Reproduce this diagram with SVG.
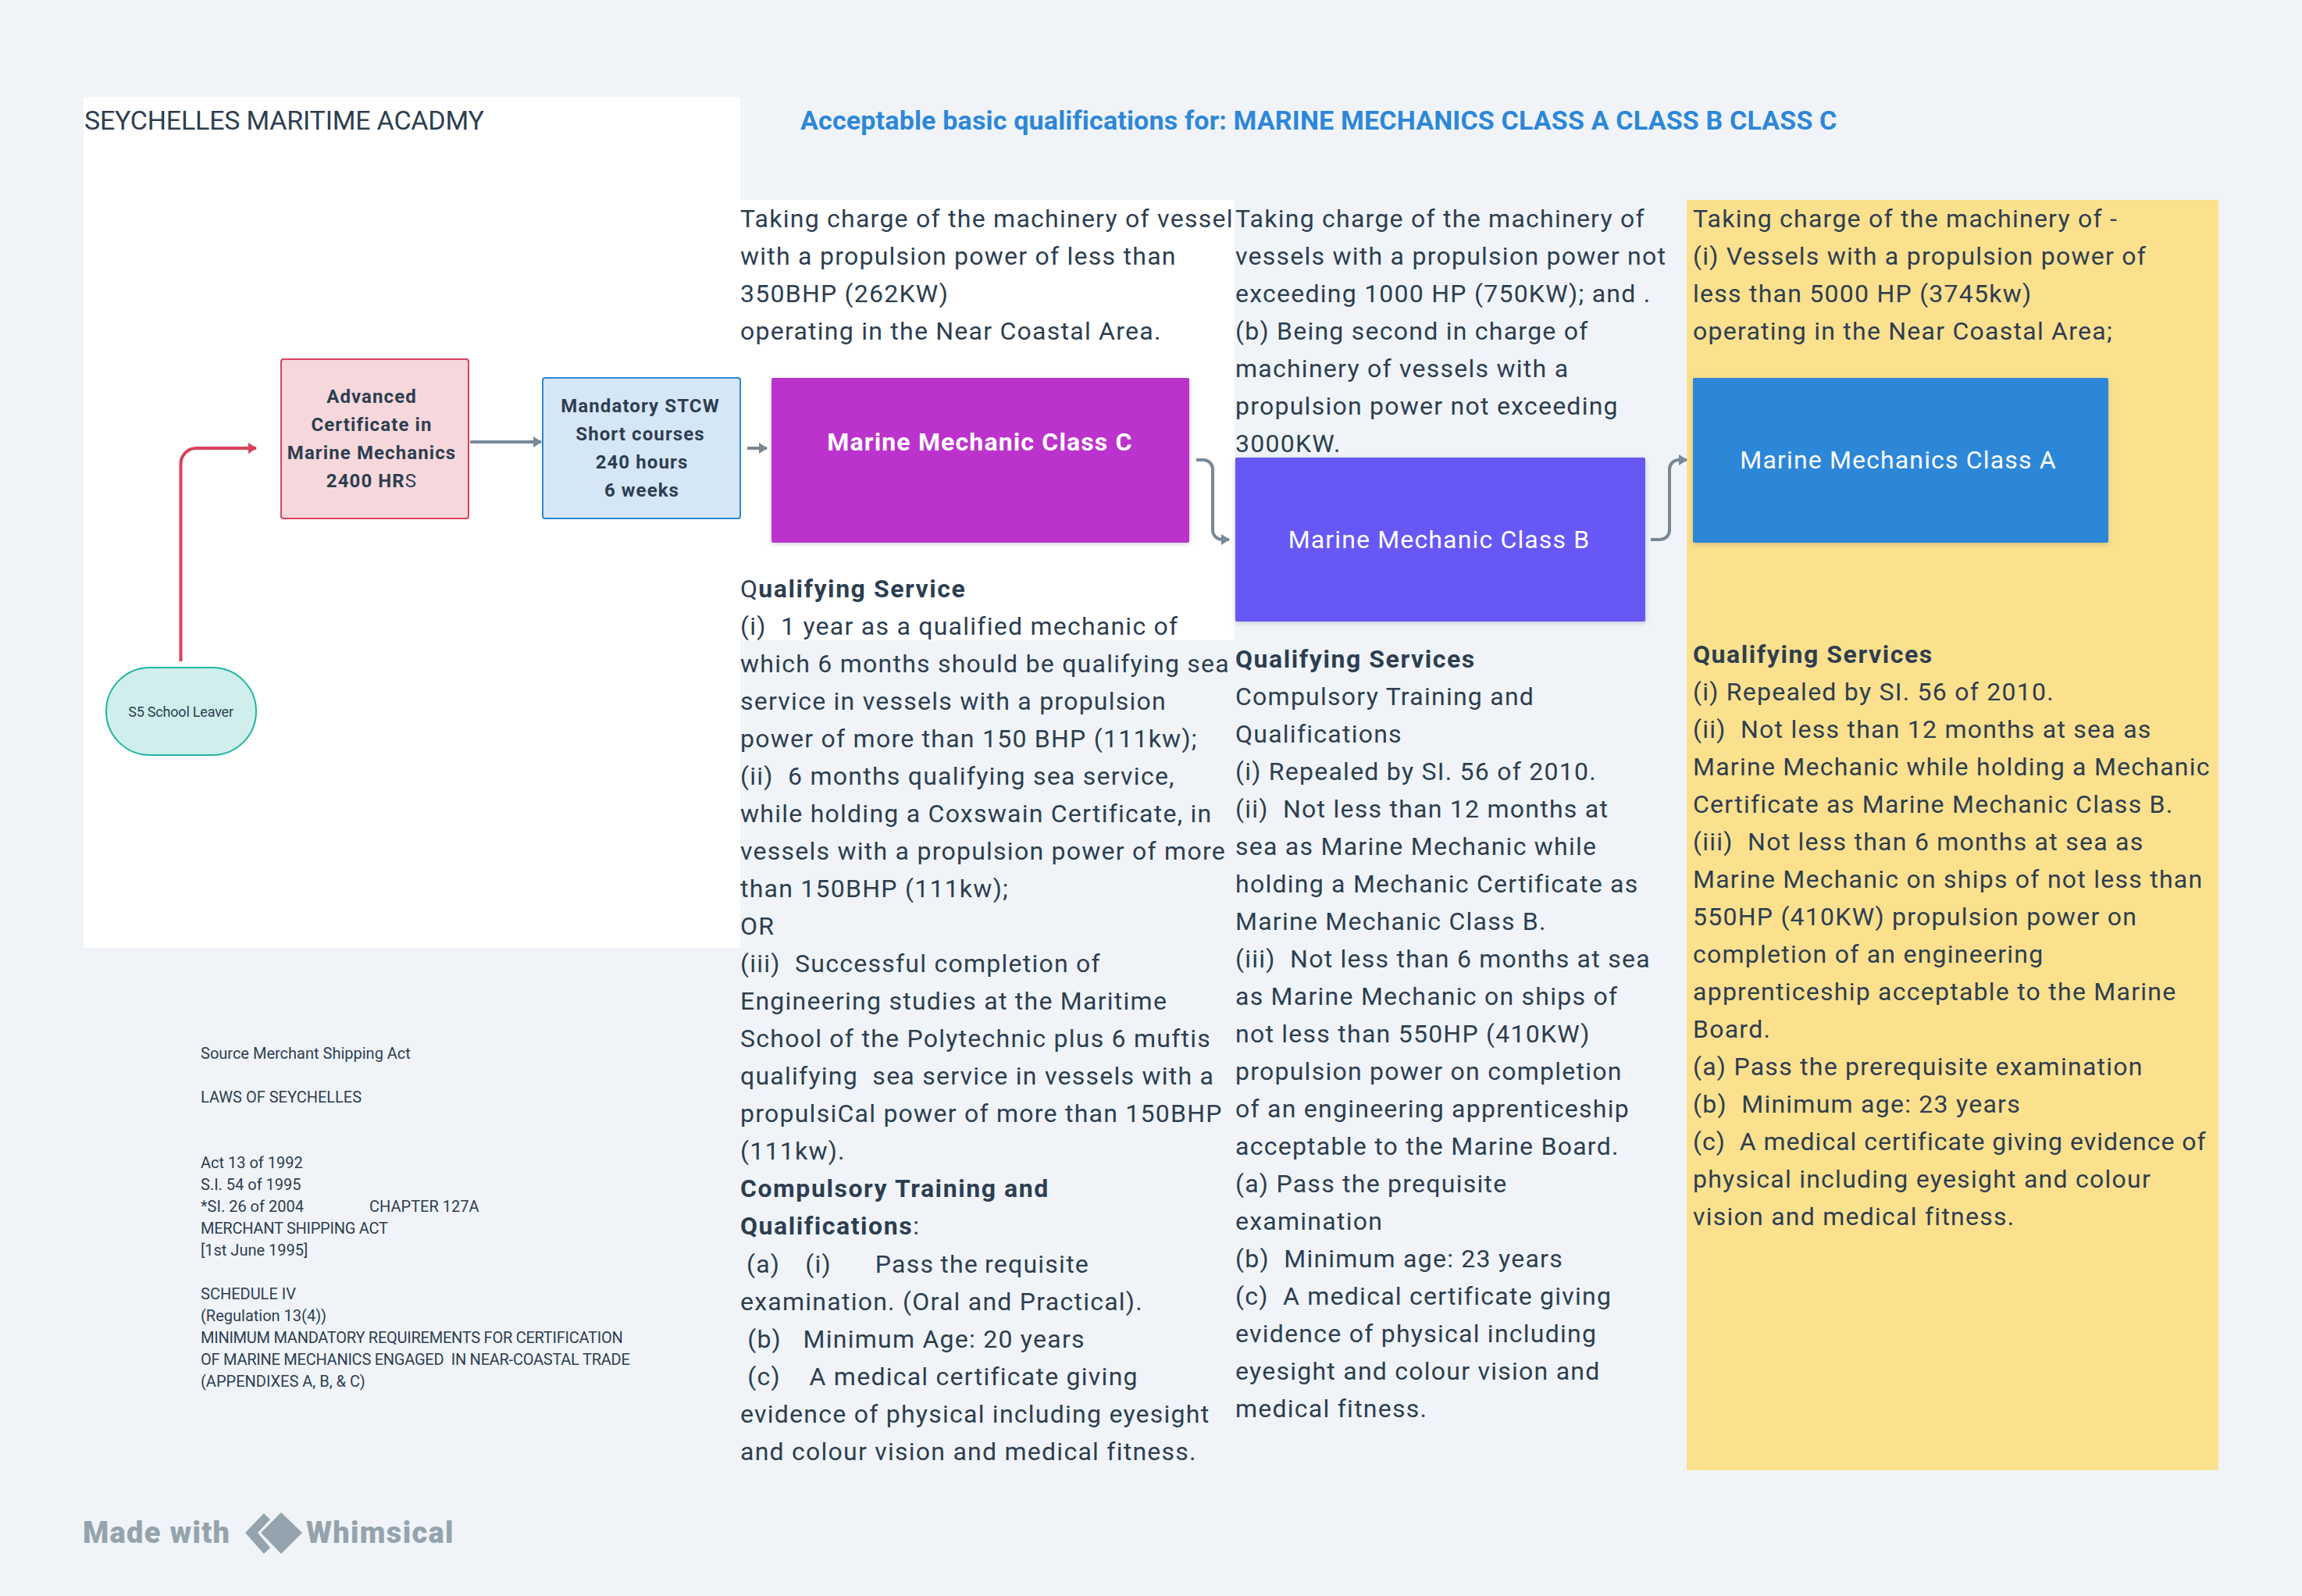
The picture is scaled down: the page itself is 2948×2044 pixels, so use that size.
<svg xmlns="http://www.w3.org/2000/svg" width="2948" height="2044" viewBox="0 0 2948 2044">
<defs>
<style>
text{font-family:"Roboto","Liberation Sans",sans-serif;fill:#2d3e50;white-space:pre}
.m{font-size:32px;letter-spacing:1.25px}
.s{font-size:20px}
.u{letter-spacing:-.25px}
.n{font-size:24px;font-weight:700;text-anchor:middle;letter-spacing:1.1px}
.w{font-size:32px;fill:#fff;text-anchor:middle;letter-spacing:1.15px}
.b{font-weight:700;letter-spacing:1.55px}
.c{fill:none;stroke:#788896;stroke-width:4}
.wm{font-size:38px;font-weight:900;fill:#94a3ad;letter-spacing:1.3px}
.sh{filter:drop-shadow(0 2px 3px rgba(45,62,80,.22))}
</style>
<marker id="ag" markerUnits="userSpaceOnUse" markerWidth="14" markerHeight="16" refX="12" refY="8" orient="auto"><path d="M2 1L13 8L2 15Z" fill="#788896"/></marker>
<marker id="ar" markerUnits="userSpaceOnUse" markerWidth="14" markerHeight="16" refX="12" refY="8" orient="auto"><path d="M2 1L13 8L2 15Z" fill="#d9415c"/></marker>
</defs>
<rect width="2948" height="2044" fill="#f0f4f8"/>
<g id="panels">
<rect x="107" y="124" width="841" height="1090" fill="#fff"/>
<rect x="948" y="256" width="633" height="564" fill="#fff"/>
<rect x="2160" y="256" width="681" height="1627" fill="#fbe08e"/>
</g>
<g id="title"><text x="108" y="166" style="font-size:34px;letter-spacing:-.2px">SEYCHELLES MARITIME ACADMY</text></g>
<g id="header"><text x="1025" y="166" style="font-size:34px;font-weight:700;letter-spacing:.17px;fill:#2d87d9">Acceptable basic qualifications for: MARINE MECHANICS CLASS A CLASS B CLASS C</text></g>
<g id="connectors">
<path d="M231.500 847V594a20 20 0 0 1 20-20H328" fill="none" stroke="#d9415c" stroke-width="4" marker-end="url(#ar)"/>
<path class="c" d="M602 566H693" marker-end="url(#ag)"/>
<path class="c" d="M957 574H982" marker-end="url(#ag)"/>
<path class="c" d="M1532 589H1541a12 12 0 0 1 12 12V679a12 12 0 0 0 12 12H1574" marker-end="url(#ag)"/>
<path class="c" d="M2114 691H2126a12 12 0 0 0 12-12V601a12 12 0 0 1 12-12H2160" marker-end="url(#ag)"/>
</g>
<g id="node-advanced">
<rect x="360" y="460" width="240" height="204" rx="3" fill="#f6d8dc" stroke="#d9415c" stroke-width="2"/>
<text class="n" x="476" y="516">Advanced</text><text class="n" x="476" y="552">Certificate in</text><text class="n" x="476" y="588">Marine Mechanics</text><text class="n" x="476" y="624">2400 HR<tspan font-weight="400">S</tspan></text>
</g>
<g id="node-stcw">
<rect x="695" y="484" width="253" height="180" rx="3" fill="#d5e6f6" stroke="#2d87d9" stroke-width="2"/>
<text class="n" x="820" y="528">Mandatory STCW</text><text class="n" x="820" y="564">Short courses</text><text class="n" x="822" y="600">240 hours</text><text class="n" x="822" y="636">6 weeks</text>
</g>
<g id="node-school">
<rect x="136" y="855" width="192" height="112" rx="56" fill="#cfeeec" stroke="#1fb5a2" stroke-width="2"/>
<text x="231.500" y="918" text-anchor="middle" style="font-size:18px;letter-spacing:-.2px">S5 School Leaver</text>
</g>
<g id="node-class-c"><rect class="sh" x="988" y="484" width="535" height="211" rx="2" fill="#bc32cd"/><text class="w" font-weight="700" x="1255" y="577">Marine Mechanic Class C</text></g>
<g id="node-class-b"><rect class="sh" x="1582" y="586" width="525" height="210" rx="2" fill="#6658f6"/><text class="w" x="1843" y="702">Marine Mechanic Class B</text></g>
<g id="node-class-a"><rect class="sh" x="2168" y="484" width="532" height="211" rx="2" fill="#2d87d9"/><text class="w" x="2431" y="600">Marine Mechanics Class A</text></g>
<g id="text-class-c">
<text class="m" x="948" y="291">Taking charge of the machinery of vessel</text>
<text class="m" x="948" y="339">with a propulsion power of less than</text>
<text class="m" x="948" y="387">350BHP (262KW)</text>
<text class="m" x="948" y="435">operating in the Near Coastal Area.</text>
<text class="m" x="948" y="765">Q<tspan class="b">ualifying Service</tspan></text>
<text class="m" x="948" y="813">(i)  1 year as a qualified mechanic of</text>
<text class="m" x="948" y="861">which 6 months should be qualifying sea</text>
<text class="m" x="948" y="909">service in vessels with a propulsion</text>
<text class="m" x="948" y="957">power of more than 150 BHP (111kw);</text>
<text class="m" x="948" y="1005">(ii)  6 months qualifying sea service,</text>
<text class="m" x="948" y="1053">while holding a Coxswain Certificate, in</text>
<text class="m" x="948" y="1101">vessels with a propulsion power of more</text>
<text class="m" x="948" y="1149">than 150BHP (111kw);</text>
<text class="m" x="948" y="1197">OR</text>
<text class="m" x="948" y="1245">(iii)  Successful completion of</text>
<text class="m" x="948" y="1293">Engineering studies at the Maritime</text>
<text class="m" x="948" y="1341">School of the Polytechnic plus 6 muftis</text>
<text class="m" x="948" y="1389">qualifying  sea service in vessels with a</text>
<text class="m" x="948" y="1437">propulsiCal power of more than 150BHP</text>
<text class="m" x="948" y="1485">(111kw).</text>
<text class="m b" x="948" y="1533">Compulsory Training and</text>
<text class="m" x="948" y="1581"><tspan class="b">Qualifications</tspan>:</text>
<text class="m" x="948" y="1630" style="word-spacing:-1.2px"> (a)    (i)       Pass the requisite</text>
<text class="m" x="948" y="1678">examination. (Oral and Practical).</text>
<text class="m" x="948" y="1726"> (b)   Minimum Age: 20 years</text>
<text class="m" x="948" y="1774"> (c)    A medical certificate giving</text>
<text class="m" x="948" y="1822">evidence of physical including eyesight</text>
<text class="m" x="948" y="1870">and colour vision and medical fitness.</text>
</g>
<g id="text-class-b">
<text class="m" x="1582" y="291">Taking charge of the machinery of</text>
<text class="m" x="1582" y="339">vessels with a propulsion power not</text>
<text class="m" x="1582" y="387">exceeding 1000 HP (750KW); and .</text>
<text class="m" x="1582" y="435">(b) Being second in charge of</text>
<text class="m" x="1582" y="483">machinery of vessels with a</text>
<text class="m" x="1582" y="531">propulsion power not exceeding</text>
<text class="m" x="1582" y="579">3000KW.</text>
<text class="m b" x="1582" y="855">Qualifying Services</text>
<text class="m" x="1582" y="903">Compulsory Training and</text>
<text class="m" x="1582" y="951">Qualifications</text>
<text class="m" x="1582" y="999">(i) Repealed by SI. 56 of 2010.</text>
<text class="m" x="1582" y="1047">(ii)  Not less than 12 months at</text>
<text class="m" x="1582" y="1095">sea as Marine Mechanic while</text>
<text class="m" x="1582" y="1143">holding a Mechanic Certificate as</text>
<text class="m" x="1582" y="1191">Marine Mechanic Class B.</text>
<text class="m" x="1582" y="1239">(iii)  Not less than 6 months at sea</text>
<text class="m" x="1582" y="1287">as Marine Mechanic on ships of</text>
<text class="m" x="1582" y="1335">not less than 550HP (410KW)</text>
<text class="m" x="1582" y="1383">propulsion power on completion</text>
<text class="m" x="1582" y="1431">of an engineering apprenticeship</text>
<text class="m" x="1582" y="1479">acceptable to the Marine Board.</text>
<text class="m" x="1582" y="1527">(a) Pass the prequisite</text>
<text class="m" x="1582" y="1575">examination</text>
<text class="m" x="1582" y="1623">(b)  Minimum age: 23 years</text>
<text class="m" x="1582" y="1671">(c)  A medical certificate giving</text>
<text class="m" x="1582" y="1719">evidence of physical including</text>
<text class="m" x="1582" y="1767">eyesight and colour vision and</text>
<text class="m" x="1582" y="1815">medical fitness.</text>
</g>
<g id="text-class-a">
<text class="m" x="2168" y="291">Taking charge of the machinery of -</text>
<text class="m" x="2168" y="339">(i) Vessels with a propulsion power of</text>
<text class="m" x="2168" y="387">less than 5000 HP (3745kw)</text>
<text class="m" x="2168" y="435">operating in the Near Coastal Area;</text>
<text class="m b" x="2168" y="849">Qualifying Services</text>
<text class="m" x="2168" y="897">(i) Repealed by SI. 56 of 2010.</text>
<text class="m" x="2168" y="945">(ii)  Not less than 12 months at sea as</text>
<text class="m" x="2168" y="993">Marine Mechanic while holding a Mechanic</text>
<text class="m" x="2168" y="1041">Certificate as Marine Mechanic Class B.</text>
<text class="m" x="2168" y="1089">(iii)  Not less than 6 months at sea as</text>
<text class="m" x="2168" y="1137">Marine Mechanic on ships of not less than</text>
<text class="m" x="2168" y="1185">550HP (410KW) propulsion power on</text>
<text class="m" x="2168" y="1233">completion of an engineering</text>
<text class="m" x="2168" y="1281">apprenticeship acceptable to the Marine</text>
<text class="m" x="2168" y="1329">Board.</text>
<text class="m" x="2168" y="1377">(a) Pass the prerequisite examination</text>
<text class="m" x="2168" y="1425">(b)  Minimum age: 23 years</text>
<text class="m" x="2168" y="1473" style="letter-spacing:1px">(c)  A medical certificate giving evidence of</text>
<text class="m" x="2168" y="1521">physical including eyesight and colour</text>
<text class="m" x="2168" y="1569">vision and medical fitness.</text>
</g>
<g id="source">
<text class="s" x="257" y="1356">Source Merchant Shipping Act</text>
<text class="s" x="257" y="1412">LAWS OF SEYCHELLES</text>
<text class="s" x="257" y="1496">Act 13 of 1992</text>
<text class="s" x="257" y="1524">S.I. 54 of 1995</text>
<text class="s" x="257" y="1552">*SI. 26 of 2004</text>
<text class="s" x="473" y="1552">CHAPTER 127A</text>
<text class="s u" x="257" y="1580">MERCHANT SHIPPING ACT</text>
<text class="s" x="257" y="1608">[1st June 1995]</text>
<text class="s" x="257" y="1664">SCHEDULE IV</text>
<text class="s" x="257" y="1692">(Regulation 13(4))</text>
<text class="s u" x="257" y="1720">MINIMUM MANDATORY REQUIREMENTS FOR CERTIFICATION</text>
<text class="s u" x="257" y="1748">OF MARINE MECHANICS ENGAGED  IN NEAR-COASTAL TRADE</text>
<text class="s" x="257" y="1776">(APPENDIXES A, B, &amp; C)</text>
</g>
<g id="watermark">
<text class="wm" x="106" y="1976">Made with</text>
<path d="M338 1938L314 1963L338 1990L346 1982L330 1963L346 1946Z" fill="#94a3ad"/>
<path d="M360 1937L387 1963L360 1990L334 1963Z" fill="#94a3ad"/>
<text class="wm" x="392" y="1976">Whimsical</text>
</g>
</svg>
